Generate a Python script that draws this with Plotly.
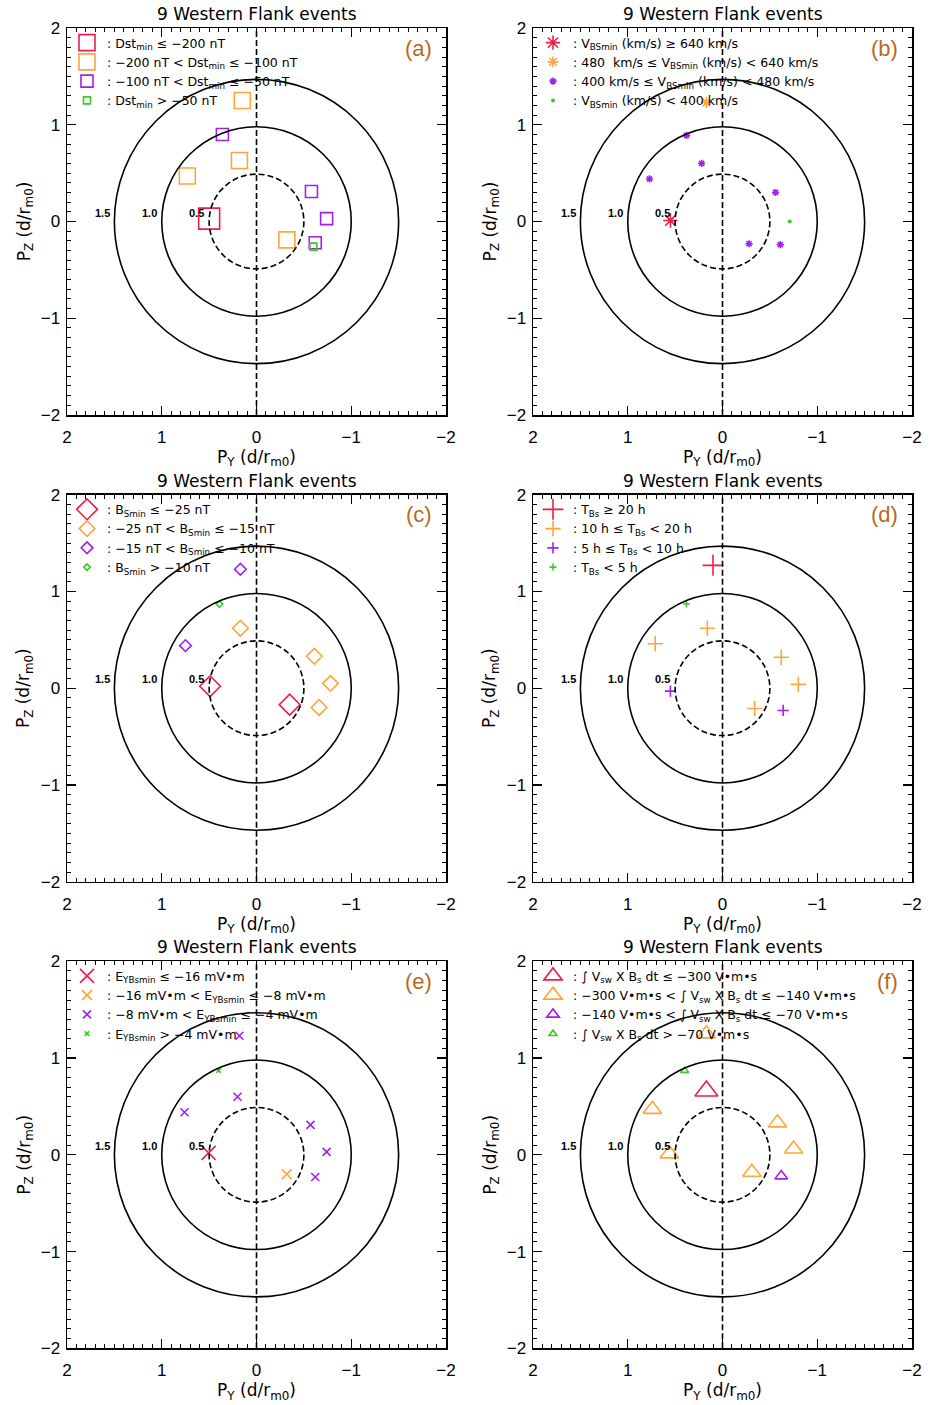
import plotly.graph_objects as go

# ---------------- data ----------------
panel_letters = ["(a)", "(b)", "(c)", "(d)", "(e)", "(f)"]
panel_title = "9 Western Flank events"
class_colors = ["#EE1F47", "#FFA53C", "#A020F0", "#3CC828"]

# (a) Dst_min
a_py = [0.50, 0.15, 0.18, 0.73, -0.32, 0.36, -0.58, -0.74, -0.62, -0.60]
a_pz = [0.03, 1.25, 0.63, 0.47, -0.19, 0.90, 0.31, 0.03, -0.22, -0.26]
a_cls = [0, 1, 1, 1, 1, 2, 2, 2, 2, 3]
a_labels = [": Dst<sub>min</sub> ≤ −200 nT",
            ": −200 nT < Dst<sub>min</sub> ≤ −100 nT",
            ": −100 nT < Dst<sub>min</sub> ≤ −50 nT",
            ": Dst<sub>min</sub> > −50 nT"]

# (b) V_BSmin
b_py = [0.55, 0.17, 0.38, 0.22, 0.77, -0.56, -0.28, -0.61, -0.71]
b_pz = [0.01, 1.23, 0.89, 0.60, 0.44, 0.30, -0.23, -0.24, 0.00]
b_cls = [0, 1, 2, 2, 2, 2, 2, 2, 3]
b_labels = [": V<sub>BSmin</sub> (km/s) ≥ 640 km/s",
            ": 480  km/s ≤ V<sub>BSmin</sub> (km/s) < 640 km/s",
            ": 400 km/s ≤ V<sub>BSmin</sub> (km/s) < 480 km/s",
            ": V<sub>BSmin</sub> (km/s) < 400 km/s"]

# (c) B_Smin
c_py = [0.49, -0.35, 0.17, -0.61, -0.78, -0.66, 0.17, 0.75, 0.39]
c_pz = [0.02, -0.17, 0.62, 0.33, 0.05, -0.20, 1.23, 0.44, 0.87]
c_cls = [0, 0, 1, 1, 1, 1, 2, 2, 3]
c_labels = [": B<sub>Smin</sub> ≤ −25 nT",
            ": −25 nT < B<sub>Smin</sub> ≤ −15 nT",
            ": −15 nT < B<sub>Smin</sub> ≤ −10 nT",
            ": B<sub>Smin</sub> > −10 nT"]

# (d) T_Bs
d_py = [0.10, 0.16, 0.71, -0.62, -0.80, -0.34, 0.55, -0.64, 0.38]
d_pz = [1.27, 0.62, 0.46, 0.32, 0.04, -0.21, -0.03, -0.23, 0.87]
d_cls = [0, 1, 1, 1, 1, 1, 2, 2, 3]
d_labels = [": T<sub>Bs</sub> ≥ 20 h",
            ": 10 h ≤ T<sub>Bs</sub> < 20 h",
            ": 5 h ≤ T<sub>Bs</sub> < 10 h",
            ": T<sub>Bs</sub> < 5 h"]

# (e) E_Y Bsmin
e_py = [0.505, -0.32, 0.18, 0.20, 0.76, -0.57, -0.74, -0.62, 0.40]
e_pz = [0.02, -0.20, 1.23, 0.60, 0.44, 0.31, 0.03, -0.23, 0.87]
e_cls = [0, 1, 2, 2, 2, 2, 2, 2, 3]
e_labels = [": E<sub>YBsmin</sub> ≤ −16 mV•m",
            ": −16 mV•m < E<sub>YBsmin</sub> ≤ −8 mV•m",
            ": −8 mV•m < E<sub>YBsmin</sub> ≤ −4 mV•m",
            ": E<sub>YBsmin</sub> > −4 mV•m"]

# (f) integral of Vsw x Bs dt
f_py = [0.17, 0.17, 0.74, 0.56, -0.58, -0.75, -0.31, -0.62, 0.40]
f_pz = [0.66, 1.25, 0.47, 0.01, 0.33, 0.06, -0.18, -0.22, 0.87]
f_cls = [0, 1, 1, 1, 1, 1, 1, 2, 3]
f_labels = [": ∫ V<sub>sw</sub> X B<sub>s</sub> dt ≤ −300 V•m•s",
            ": −300 V•m•s < ∫ V<sub>sw</sub> X B<sub>s</sub> dt ≤ −140 V•m•s",
            ": −140 V•m•s < ∫ V<sub>sw</sub> X B<sub>s</sub> dt ≤ −70 V•m•s",
            ": ∫ V<sub>sw</sub> X B<sub>s</sub> dt > −70 V•m•s"]

circle_radii = [0.5, 1.0, 1.5]
circle_labels = ["0.5", "1.0", "1.5"]
tick_vals = [-2, -1, 0, 1, 2]

# ---------------- styling ----------------
panels = [
    (a_py, a_pz, a_cls, a_labels, "square-open", [21, 16, 12, 7]),
    (b_py, b_pz, b_cls, b_labels, "asterisk-open", [12, 9, 6, 4]),
    (c_py, c_pz, c_cls, c_labels, "diamond-open", [16, 12, 9, 5]),
    (d_py, d_pz, d_cls, d_labels, "cross-thin-open", [15, 11, 8, 5]),
    (e_py, e_pz, e_cls, e_labels, "x-thin-open", [14, 10, 8, 4.5]),
    (f_py, f_pz, f_cls, f_labels, "triangle-up-open", [20, 16, 11, 7]),
]

W, H = 931, 1405
FONT = "Arial, Liberation Sans, sans-serif"
WFONT = "DejaVu Sans, Verdana, sans-serif"


def fx(px):
    return px / W


def fy(py):
    return 1 - py / H


col_px = [(67, 446), (533, 912)]
row_top_px = [28, 494.7, 961.3]
plot_h = 387

fig = go.Figure()
layout = dict(width=W, height=H,
              margin=dict(l=0, r=0, t=0, b=0, autoexpand=False),
              paper_bgcolor="white", plot_bgcolor="white",
              font=dict(family=FONT, color="black"),
              showlegend=True)
annotations = []
shapes = []

for i, (py, pz, cls, labels, sym, sizes) in enumerate(panels):
    r, c = divmod(i, 2)
    x0p, x1p = col_px[c]
    t = row_top_px[r]
    b = t + plot_h
    xd = [fx(x0p), fx(x1p)]
    yd = [fy(b), fy(t)]
    ax = "" if i == 0 else str(i + 1)
    xname, yname = "x" + ax, "y" + ax
    lg = "legend" if i == 0 else "legend" + str(i + 1)

    for k in range(4):
        xs = [py[j] for j in range(len(py)) if cls[j] == k]
        ys = [pz[j] for j in range(len(pz)) if cls[j] == k]
        mk = dict(symbol=sym, size=sizes[k], color=class_colors[k],
                  line=dict(color=class_colors[k], width=1.6))
        if i == 1 and k == 3:
            mk = dict(symbol="circle", size=sizes[k], color=class_colors[k],
                      line=dict(width=0))
        fig.add_trace(go.Scatter(x=xs, y=ys, mode="markers", marker=mk,
                                 name=labels[k], xaxis=xname, yaxis=yname,
                                 legend=lg, showlegend=True, hoverinfo="skip"))

    axis_common = dict(tickvals=tick_vals, ticks="inside",
                       ticklen=9, tickwidth=1.3, tickcolor="black",
                       showline=True, linecolor="black", linewidth=1.5,
                       mirror="allticks", showgrid=False, zeroline=False,
                       automargin=False,
                       tickfont=dict(size=17, family=FONT),
                       minor=dict(ticks="inside", dtick=0.1, ticklen=4,
                                  tickwidth=1, tickcolor="black",
                                  showgrid=False))
    layout["xaxis" + ax] = dict(axis_common, range=[2, -2], domain=xd,
                                anchor=yname, ticklabelstandoff=6,
                                title=dict(text="P<sub>Y</sub> (d/r<sub>m0</sub>)",
                                           font=dict(size=17, family=WFONT),
                                           standoff=2))
    layout["yaxis" + ax] = dict(axis_common, range=[-2, 2], domain=yd,
                                anchor=xname, ticklabelstandoff=2,
                                title=dict(text="P<sub>Z</sub> (d/r<sub>m0</sub>)",
                                           font=dict(size=17, family=WFONT),
                                           standoff=6))

    # circles (round in pixels) and dashed centre line
    ratio = ((x1p - x0p) / 4.0) / (plot_h / 4.0)
    for rad in circle_radii:
        shapes.append(dict(type="circle", xref=xname, yref=yname,
                           x0=-rad, x1=rad, y0=-rad * ratio, y1=rad * ratio,
                           line=dict(color="black", width=1.6,
                                     dash="6px,3px" if rad == 0.5 else "solid")))
    shapes.append(dict(type="line", xref=xname, yref=yname, x0=0, x1=0,
                       y0=-2, y1=2,
                       line=dict(color="black", width=1.6, dash="6px,3px")))
    for rad, txt in zip(circle_radii, circle_labels):
        annotations.append(dict(x=rad + 0.03, y=0.09, xref=xname, yref=yname,
                                text="<b>" + txt + "</b>", showarrow=False,
                                xanchor="right", yanchor="middle",
                                font=dict(size=11, family=FONT)))

    # panel title and letter
    annotations.append(dict(x=(xd[0] + xd[1]) / 2, y=fy(t - 14),
                            xref="paper", yref="paper", text=panel_title,
                            showarrow=False, xanchor="center", yanchor="middle",
                            font=dict(size=17, family=WFONT)))
    annotations.append(dict(x=fx(x1p - 12), y=fy(t + 20),
                            xref="paper", yref="paper", text=panel_letters[i],
                            showarrow=False, xanchor="right", yanchor="middle",
                            font=dict(size=22, family=FONT, color="#B86A1E")))

    layout[lg] = dict(x=fx(x0p), y=fy(t), xanchor="left",
                      yanchor="top", bgcolor="rgba(0,0,0,0)", borderwidth=0,
                      font=dict(size=12.5, family=WFONT, color="black"),
                      itemsizing="trace", tracegroupgap=0, itemwidth=30,
                      itemclick=False, itemdoubleclick=False)

layout["annotations"] = annotations
layout["shapes"] = shapes
fig.update_layout(**layout)
fig.write_html("out.html",
               config={"displayModeBar": False, "staticPlot": True},
               post_script="document.body.style.margin='0px';"
                           "document.body.style.overflow='hidden';")
